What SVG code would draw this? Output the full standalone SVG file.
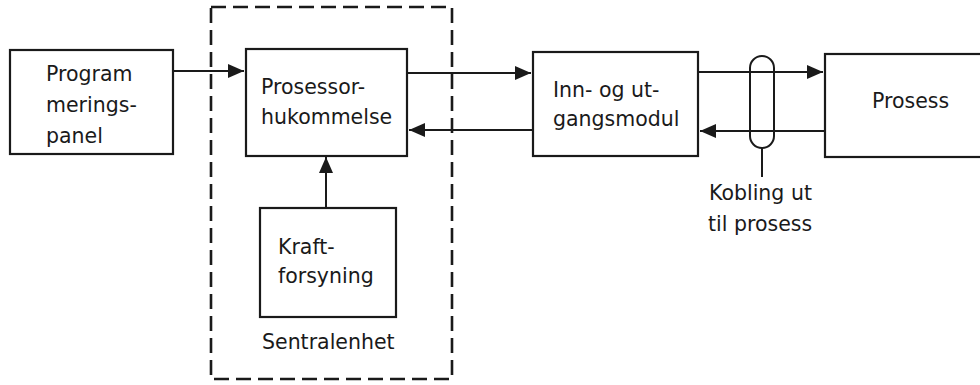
<svg xmlns="http://www.w3.org/2000/svg" width="980" height="385" viewBox="0 0 980 385">
<style>
.box{fill:#fff;stroke:#1a1a1a;stroke-width:2.2}
.t{font-family:"DejaVu Sans",sans-serif;font-size:20.5px;fill:#1a1a1a}
.ln{fill:none;stroke:#1a1a1a;stroke-width:2}
.dash{fill:none;stroke:#1a1a1a;stroke-width:2.6;stroke-dasharray:15 7}
</style>
<defs>
<marker id="ah" markerUnits="userSpaceOnUse" markerWidth="17" markerHeight="16" refX="16" refY="8" orient="auto">
<path d="M0,1 L16,8 L0,15 z" fill="#1a1a1a"/>
</marker>
</defs>
<rect width="980" height="385" fill="#fff"/>
<g id="sentralenhet">
<rect class="dash" x="211" y="7" width="241" height="372"/>
<text class="t" x="262" y="349">Sentralenhet</text>
</g>
<g id="connectors">
<line class="ln" x1="173" y1="71" x2="244" y2="71" marker-end="url(#ah)"/>
<line class="ln" x1="407" y1="73" x2="531" y2="73" marker-end="url(#ah)"/>
<line class="ln" x1="533" y1="130" x2="409" y2="130" marker-end="url(#ah)"/>
<line class="ln" x1="698" y1="72" x2="823" y2="72" marker-end="url(#ah)"/>
<line class="ln" x1="825" y1="131" x2="700" y2="131" marker-end="url(#ah)"/>
<line class="ln" x1="326" y1="208" x2="326" y2="157" marker-end="url(#ah)"/>
</g>
<g id="programmeringspanel">
<rect class="box" x="10" y="50" width="163" height="104"/>
<text class="t" x="46" y="81">Program</text>
<text class="t" x="46" y="112">merings-</text>
<text class="t" x="46" y="143">panel</text>
</g>
<g id="prosessor">
<rect class="box" x="246" y="49" width="161" height="107"/>
<text class="t" x="261" y="94">Prosessor-</text>
<text class="t" x="261" y="124">hukommelse</text>
</g>
<g id="kraftforsyning">
<rect class="box" x="260" y="208" width="136" height="109"/>
<text class="t" x="278" y="254">Kraft-</text>
<text class="t" x="278" y="283">forsyning</text>
</g>
<g id="innogut">
<rect class="box" x="533" y="52" width="165" height="104"/>
<text class="t" x="553" y="97">Inn- og ut-</text>
<text class="t" x="553" y="126">gangsmodul</text>
</g>
<g id="prosess">
<rect class="box" x="825" y="54" width="170" height="103"/>
<text class="t" x="872" y="108">Prosess</text>
</g>
<g id="kobling">
<rect class="ln" x="750" y="56" width="24" height="92" rx="12" ry="12"/>
<line class="ln" x1="762" y1="148" x2="762" y2="177"/>
<text class="t" x="709" y="200">Kobling ut</text>
<text class="t" x="708" y="231">til prosess</text>
</g>
</svg>
